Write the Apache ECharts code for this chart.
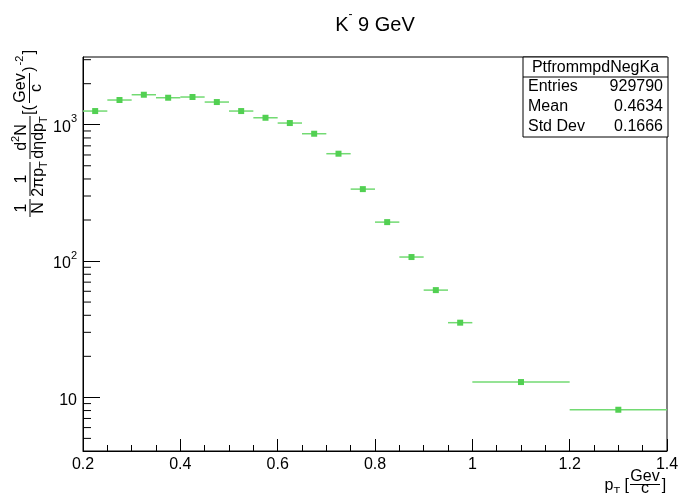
<!DOCTYPE html>
<html>
<head>
<meta charset="utf-8">
<script src="https://cdn.jsdelivr.net/npm/echarts@6/dist/echarts.min.js"></script>
<style>
  html, body { margin: 0; padding: 0; background: #ffffff; }
  #chart { width: 682px; height: 493px; }
</style>
</head>
<body>
<div id="chart"></div>
<script>
// pT bin edges (GeV/c) and the normalised K- yield in each bin
const binEdges = [0.20, 0.25, 0.30, 0.35, 0.40, 0.45, 0.50, 0.55, 0.60, 0.65,
                  0.70, 0.75, 0.80, 0.85, 0.90, 0.95, 1.00, 1.20, 1.40];
const yields = [1260, 1518, 1660, 1578, 1597, 1467, 1260, 1125, 1029, 859,
                613, 337, 193, 107, 61.2, 35.3, 12.95, 8.11];

// axis ranges and tick labels
const xRange = [0.2, 1.4];
const xTickStep = 0.2;
const yRange = [4.04, 3140];
const yMinorTicks = [5, 6, 7, 8, 9, 20, 30, 40, 50, 60, 70, 80, 90,
                     200, 300, 400, 500, 600, 700, 800, 900, 2000, 3000];

// statistics box
const statsName = 'PtfrommpdNegKa';
const statsLabels = ['Entries', 'Mean', 'Std Dev'];
const statsValues = ['929790', '0.4634', '0.1666'];

const titleText = '{a|K}{s|-}{a| 9 GeV}';

const FONT = '"Liberation Sans", Arial, Helvetica, sans-serif';
const GREEN = '#52d052';

const points = yields.map((v, i) => [
  (binEdges[i] + binEdges[i + 1]) / 2, binEdges[i], binEdges[i + 1], v
]);

const chart = echarts.init(document.getElementById('chart'), null, { renderer: 'canvas' });

function txt(x, y, text, opts) {
  return {
    type: 'text', x: x, y: y, silent: true,
    style: Object.assign({
      text: text, fill: '#000', fontFamily: FONT, fontSize: 16,
      align: 'center', verticalAlign: 'middle'
    }, opts || {})
  };
}
function hline(x1, x2, y) {
  return { type: 'line', silent: true, shape: { x1: x1, y1: y, x2: x2, y2: y },
           style: { stroke: '#000', lineWidth: 1 } };
}

const supSub = {
  n: { fontFamily: FONT, fontSize: 16, lineHeight: 22, verticalAlign: 'middle' },
  sup: { fontFamily: FONT, fontSize: 11, lineHeight: 22, verticalAlign: 'top' },
  sub: { fontFamily: FONT, fontSize: 11, lineHeight: 22, verticalAlign: 'bottom' }
};

// y-axis title, laid out along the rotated reading direction
const yTitle = {
  type: 'group', x: 30, y: 220, rotation: Math.PI / 2, silent: true,
  children: [
    hline(3, 21, 0),
    txt(12, -8.5, '1'),
    txt(12, 8.5, 'N'),
    hline(24, 58, 0),
    txt(41, -8.5, '1'),
    txt(41, 8.5, '{n|2πp}{sub|T}', { rich: supSub }),
    hline(61, 104, 0),
    txt(82.5, -8.5, '{n|d}{sup|2}{n|N}', { rich: supSub }),
    txt(82.5, 8.5, '{n|dηdp}{sub|T}', { rich: supSub }),
    txt(110, 0, '[('),
    hline(117, 147, -0.5),
    txt(132, -9, 'Gev'),
    txt(132, 7, 'c'),
    txt(151, 0, ')'),
    txt(159.5, -10, '-2', { fontSize: 11 }),
    txt(168, 0, ']')
  ]
};

// x-axis title
const xTitle = {
  type: 'group', silent: true,
  children: [
    txt(629, 486, '{n|p}{sub|T}{n| [}', { rich: supSub, align: 'right' }),
    txt(645, 477, 'Gev'),
    hline(630, 660, 484.5),
    txt(645, 489, 'c'),
    txt(664, 486, ']')
  ]
};

// statistics box
const boxX = 523, boxY = 57, boxW = 145, boxH = 80, headH = 20, rowH = 20;
const statsChildren = [
  { type: 'rect', silent: true, shape: { x: boxX, y: boxY, width: boxW, height: boxH },
    style: { fill: '#fff', stroke: '#000', lineWidth: 1 } },
  hline(boxX, boxX + boxW, boxY + headH),
  txt(boxX + boxW / 2, boxY + headH / 2 + 0.5, statsName)
];
statsLabels.forEach((lab, i) => {
  const y = boxY + headH + rowH * i + rowH / 2;
  statsChildren.push(txt(boxX + 5, y, lab, { align: 'left' }));
  statsChildren.push(txt(boxX + boxW - 5, y, statsValues[i], { align: 'right' }));
});

const option = {
  animation: false,
  backgroundColor: '#ffffff',
  grid: {
    left: 83, right: 15, top: 57, bottom: 42,
    show: true, borderColor: '#000', borderWidth: 1, backgroundColor: 'transparent',
    containLabel: false, outerBoundsMode: 'none'
  },
  xAxis: {
    type: 'value', min: xRange[0], max: xRange[1], interval: xTickStep,
    axisLine: { show: true, onZero: false, lineStyle: { color: '#000', width: 1 } },
    axisTick: { show: true, inside: true, length: 12, lineStyle: { color: '#000' } },
    minorTick: { show: true, splitNumber: 4, length: 6, lineStyle: { color: '#000' } },
    splitLine: { show: false },
    minorSplitLine: { show: false },
    axisLabel: {
      color: '#000', fontFamily: FONT, fontSize: 16, margin: 6,
      formatter: v => String(parseFloat(v.toFixed(2)))
    }
  },
  yAxis: {
    type: 'log', logBase: 10, min: yRange[0], max: yRange[1],
    axisLine: { show: true, onZero: false, lineStyle: { color: '#000', width: 1 } },
    axisTick: { show: true, inside: true, length: 17, lineStyle: { color: '#000' } },
    splitLine: { show: false },
    axisLabel: {
      color: '#000', margin: 6,
      showMinLabel: false, showMaxLabel: false,
      formatter: v => {
        const l = Math.log10(v);
        const e = Math.round(l);
        if (Math.abs(l - e) > 1e-6) return '';
        return e === 1 ? '{b|10}' : '{b|10}{s|' + e + '}';
      },
      rich: {
        b: { fontFamily: FONT, fontSize: 16, lineHeight: 22, verticalAlign: 'bottom', color: '#000' },
        s: { fontFamily: FONT, fontSize: 11, lineHeight: 22, verticalAlign: 'top', color: '#000' }
      }
    }
  },
  series: [
    {
      // short log-scale ticks at 2..9 x 10^n
      type: 'custom', silent: true, clip: true, z: 3,
      data: yMinorTicks.map(v => [xRange[0], v]),
      renderItem: (params, api) => {
        const p = api.coord([api.value(0), api.value(1)]);
        const len = 8;
        return { type: 'line', shape: { x1: p[0], y1: p[1], x2: p[0] + len, y2: p[1] },
                 style: { stroke: '#000', lineWidth: 1 } };
      }
    },
    {
      // bin-width error bars and square markers
      type: 'custom', silent: true, clip: true, z: 5,
      data: points,
      renderItem: (params, api) => {
        const y = api.value(3);
        const c = api.coord([api.value(0), y]);
        const lo = api.coord([api.value(1), y]);
        const hi = api.coord([api.value(2), y]);
        const s = 6;
        return {
          type: 'group',
          children: [
            { type: 'line', shape: { x1: lo[0], y1: c[1], x2: hi[0], y2: c[1] },
              style: { stroke: '#72da72', lineWidth: 1.5 } },
            { type: 'rect', shape: { x: c[0] - s / 2, y: c[1] - s / 2, width: s, height: s },
              style: { fill: GREEN } }
          ]
        };
      }
    }
  ],
  graphic: [
    {
      type: 'text', x: 375, y: 22, silent: true,
      style: {
        text: titleText, align: 'center', verticalAlign: 'middle',
        rich: {
          a: { fontFamily: FONT, fontSize: 20, lineHeight: 26, verticalAlign: 'bottom', fill: '#000' },
          s: { fontFamily: FONT, fontSize: 12, lineHeight: 26, verticalAlign: 'top', fill: '#000' }
        }
      }
    },
    yTitle,
    xTitle,
    { type: 'group', silent: true, z: 100, children: statsChildren }
  ]
};

chart.setOption(option);
</script>
</body>
</html>
